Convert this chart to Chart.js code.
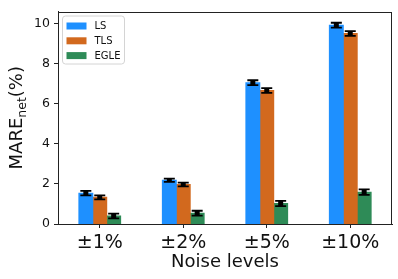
<!DOCTYPE html>
<html>
<head>
<meta charset="utf-8">
<script src="https://cdn.jsdelivr.net/npm/chart.js@4"></script>
<style>
  html, body { margin: 0; padding: 0; background: #fff; }
  #wrap { width: 398px; height: 279px; }
</style>
</head>
<body>
<div id="wrap"><canvas id="mareChart"></canvas></div>
<script>
// values
const categories = ['±1%', '±2%', '±5%', '±10%'];
const lsValues = [1.54, 2.18, 7.05, 9.92];
const tlsValues = [1.33, 1.97, 6.66, 9.50];
const egleValues = [0.40, 0.54, 1.02, 1.59];
const lsErrors = [0.11, 0.08, 0.12, 0.12];
const tlsErrors = [0.10, 0.09, 0.12, 0.12];
const egleErrors = [0.12, 0.12, 0.13, 0.14];
const yTicks = [0, 2, 4, 6, 8, 10];

const FONT = "'DejaVu Sans', sans-serif";

// black error bars with caps
const errorBars = {
    id: 'errorBars',
    afterDatasetsDraw(chart) {
        const ctx = chart.ctx;
        const y = chart.scales.y;
        ctx.save();
        ctx.strokeStyle = '#000';
        chart.data.datasets.forEach((ds, i) => {
            const meta = chart.getDatasetMeta(i);
            meta.data.forEach((bar, j) => {
                const v = ds.data[j], e = ds.errors[j];
                const top = y.getPixelForValue(v + e);
                const bot = y.getPixelForValue(v - e);
                ctx.lineWidth = 5;
                ctx.beginPath();
                ctx.moveTo(bar.x, top);
                ctx.lineTo(bar.x, bot);
                ctx.stroke();
                ctx.lineWidth = 1.8;
                ctx.beginPath();
                ctx.moveTo(bar.x - 5.5, top);
                ctx.lineTo(bar.x + 5.5, top);
                ctx.moveTo(bar.x - 5.5, bot);
                ctx.lineTo(bar.x + 5.5, bot);
                ctx.stroke();
            });
        });
        ctx.restore();
    }
};

// frame, y title with subscript, legend box
const decorations = {
    id: 'decorations',
    afterDraw(chart) {
        const ctx = chart.ctx;
        const a = chart.chartArea;
        ctx.save();
        ctx.strokeStyle = '#222';
        ctx.lineWidth = 1;
        ctx.strokeRect(Math.round(a.left) + 0.5, Math.round(a.top) + 0.5,
            Math.round(a.right - a.left) - 1, Math.round(a.bottom - a.top) - 1);

        // y axis title
        ctx.fillStyle = '#111';
        ctx.textBaseline = 'alphabetic';
        const big = '18px ' + FONT, small = '12.5px ' + FONT;
        ctx.font = big;
        const w1 = ctx.measureText('MARE').width;
        const w3 = ctx.measureText('(%)').width;
        ctx.font = small;
        const w2 = ctx.measureText('net').width;
        const total = w1 + w2 + w3;
        ctx.translate(22, (a.top + a.bottom) / 2);
        ctx.rotate(-Math.PI / 2);
        let x = -total / 2;
        ctx.font = big;
        ctx.fillText('MARE', x, 0);
        x += w1;
        ctx.font = small;
        ctx.fillText('net', x, 3.5);
        x += w2;
        ctx.font = big;
        ctx.fillText('(%)', x, 0);
        ctx.setTransform(1, 0, 0, 1, 0, 0);

        // legend
        const lx = a.left + 4.5, ly = a.top + 4.5, lw = 62, lh = 48;
        ctx.fillStyle = 'rgba(255,255,255,0.8)';
        ctx.strokeStyle = '#d4d4d4';
        ctx.beginPath();
        ctx.roundRect(lx, ly, lw, lh, 3);
        ctx.fill();
        ctx.stroke();
        ctx.font = '10px ' + FONT;
        ctx.textBaseline = 'middle';
        chart.data.datasets.forEach((ds, i) => {
            const cy = ly + 10 + i * 14.8;
            ctx.fillStyle = ds.backgroundColor;
            ctx.fillRect(lx + 4, cy - 3.5, 20, 7);
            ctx.fillStyle = '#111';
            ctx.fillText(ds.label, lx + 32, cy + 0.5);
        });
        ctx.restore();
    }
};

new Chart(document.getElementById('mareChart'), {
    type: 'bar',
    data: {
        labels: categories,
        datasets: [{
            label: 'LS',
            data: lsValues,
            errors: lsErrors,
            backgroundColor: '#1e90ff'
        }, {
            label: 'TLS',
            data: tlsValues,
            errors: tlsErrors,
            backgroundColor: '#d2691e'
        }, {
            label: 'EGLE',
            data: egleValues,
            errors: egleErrors,
            backgroundColor: '#2e8b57'
        }]
    },
    options: {
        responsive: true,
        maintainAspectRatio: false,
        animation: false,
        datasets: {
            bar: { categoryPercentage: 0.5, barPercentage: 1.0, borderWidth: 0, inflateAmount: 0.5 }
        },
        layout: { padding: { top: 6, right: 6, left: 0, bottom: 0 } },
        plugins: {
            legend: { display: false },
            tooltip: { enabled: false }
        },
        scales: {
            x: {
                offset: true,
                grid: { display: true, drawOnChartArea: false, offset: false, tickLength: 4, color: '#222' },
                border: { display: true, color: '#222' },
                ticks: { color: '#111', font: { family: FONT, size: 19 }, padding: 4 },
                title: {
                    display: true,
                    text: 'Noise levels',
                    color: '#111',
                    font: { family: FONT, size: 18 },
                    padding: { top: 0, bottom: 6 }
                },
                afterFit(s) { s.height = 55; }
            },
            y: {
                min: 0,
                max: 10.6,
                grid: { display: true, drawOnChartArea: false, tickLength: 4, color: '#222' },
                border: { display: true, color: '#222' },
                ticks: { color: '#111', font: { family: FONT, size: 12.5 }, padding: 4 },
                afterBuildTicks(s) { s.ticks = yTicks.map(v => ({ value: v })); },
                afterFit(s) { s.width = 58; }
            }
        }
    },
    plugins: [errorBars, decorations]
});
</script>
</body>
</html>
